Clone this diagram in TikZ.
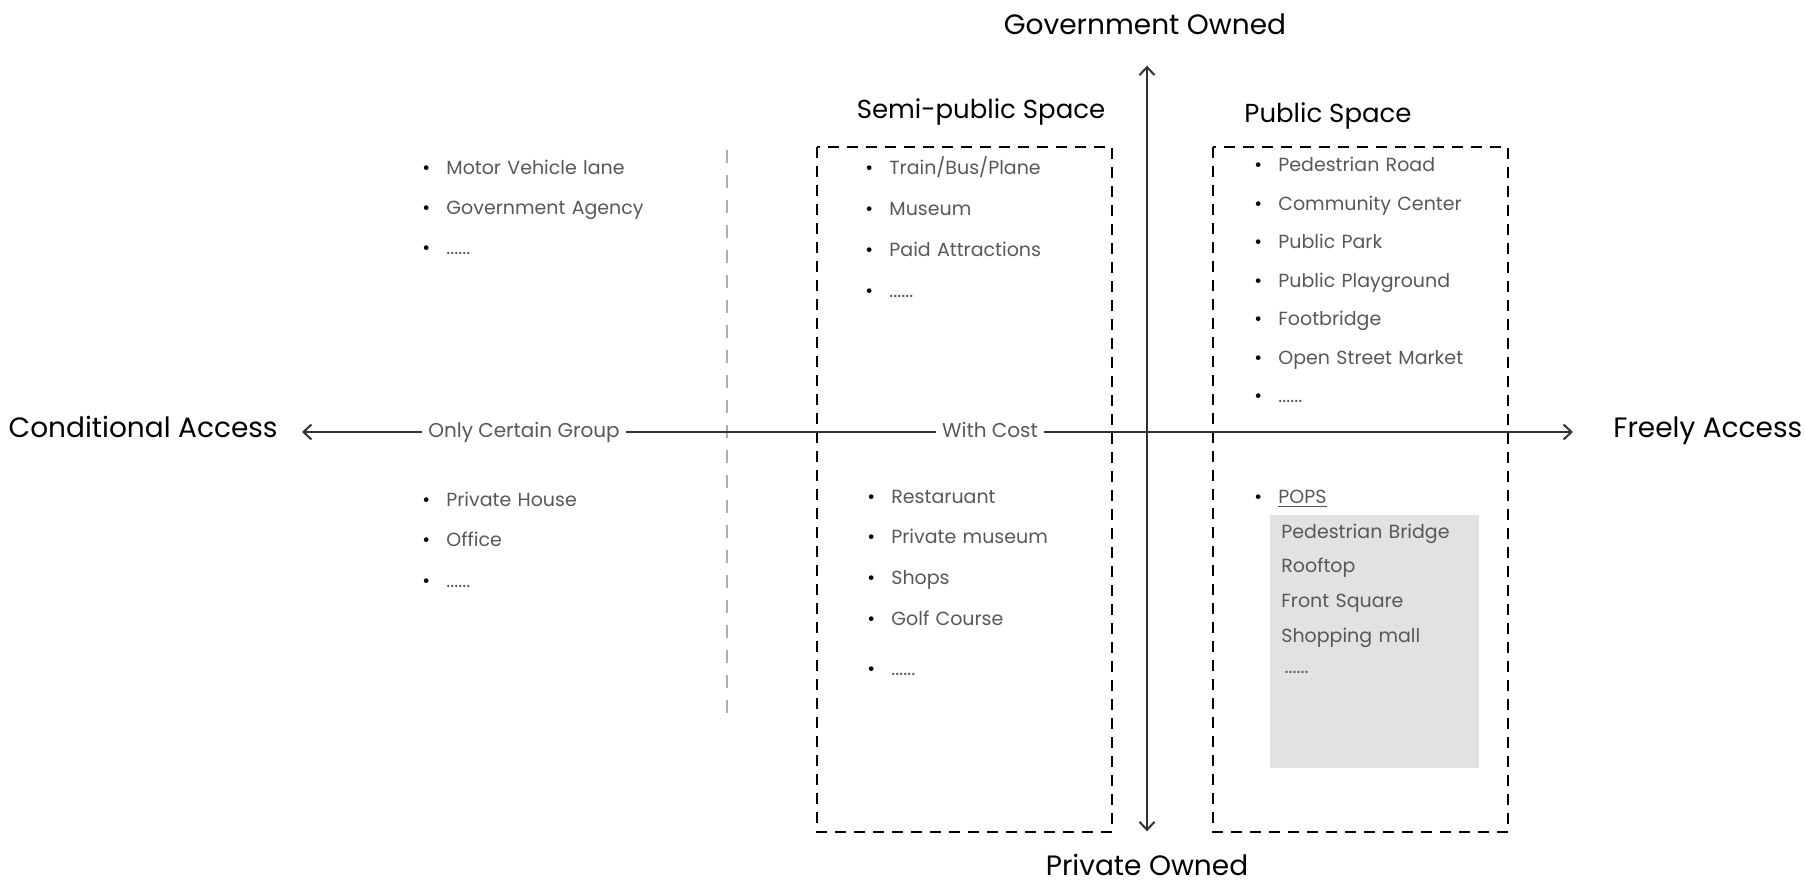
\documentclass[tikz,border=0pt]{standalone}
\usepackage{fontspec}
\setmainfont{Poppins}
\usetikzlibrary{positioning,arrows.meta}

\definecolor{entrygray}{RGB}{88,88,88}
\definecolor{axisgray}{RGB}{50,50,50}
\definecolor{guidegray}{RGB}{175,175,175}
\definecolor{popsgray}{RGB}{226,226,226}

% black bullet in front of a gray entry
\newcommand{\itemdot}{\makebox[12pt][l]{\textcolor{black}{\textbullet}}}

\tikzset{
  heading/.style={font=\fontsize{14}{16}\selectfont, inner sep=0pt},
  zonetitle/.style={font=\fontsize{13}{15}\selectfont, inner sep=0pt},
  entry/.style={font=\fontsize{9.5}{11}\selectfont, text=entrygray, inner sep=0pt,
    text width=120pt, align=left, text height=7pt, text depth=2pt},
  axislabel/.style={font=\fontsize{10}{12}\selectfont, text=entrygray, inner xsep=3pt},
  axis/.style={axisgray, line width=1pt},
  tip/.style={-{Straight Barb[length=4pt,width=7.5pt]}},
  zone/.style={draw, line width=1.2pt, dash pattern=on 5.5pt off 4pt},
  guide/.style={guidegray, line width=1pt, dash pattern=on 6.5pt off 6pt},
}

\begin{document}
\begin{tikzpicture}[x=0.5pt, y=-0.5pt, node distance=11pt]
  \useasboundingbox (0,0) rectangle (1806,883);

  % POPS background and the two zones
  \fill[popsgray] (1270,515) rectangle (1479,768);
  \draw[zone] (817,147) rectangle (1112,832);
  \draw[zone] (1213,147) rectangle (1508,832);
  \draw[guide] (727,150) -- (727,718);

  \node (semititle) [zonetitle, anchor=base] at (981,119) {Semi-public Space};
  \node (pubtitle) [zonetitle, anchor=base] at (1328,123) {Public Space};

  % ownership axis
  \node (govown) [heading, anchor=base] at (1145,35) {Government Owned};
  \node (privown) [heading, anchor=base] at (1147,875) {Private Owned};
  \draw[axis, {Straight Barb[length=4pt,width=7.5pt]}-{Straight Barb[length=4pt,width=7.5pt]},
    shorten <=15pt, shorten >=11pt] (govown.south -| privown.north) -- (privown.north);

  % access axis
  \node (condacc) [heading, anchor=mid east, inner xsep=12pt] at (302,432) {Conditional Access};
  \node (freeacc) [heading, anchor=mid west, inner xsep=20pt] at (1573,432) {Freely Access};
  \node (grouplbl) [axislabel, anchor=mid] at (524,432) {Only Certain Group};
  \node (costlbl) [axislabel, anchor=mid] at (990,432) {With Cost};
  \draw[axis, tip] (grouplbl.mid west) -- (condacc.mid east);
  \draw[axis] (grouplbl.mid east) -- (costlbl.mid west);
  \draw[axis, tip] (costlbl.mid east) -- (freeacc.mid west);

  % certain group only
  \begin{scope}[node distance=10.5pt]
    \node (motorlane) [entry, anchor=base west] at (422,175) {\itemdot Motor Vehicle lane};
    \node (govagency) [entry, below=of motorlane] {\itemdot Government Agency};
    \node (grouptopdots) [entry, below=of govagency] {\itemdot ......};
  \end{scope}

  \node (privhouse) [entry, anchor=base west] at (422,506) {\itemdot Private House};
  \node (office) [entry, below=of privhouse] {\itemdot Office};
  \node (groupbotdots) [entry, below=of office] {\itemdot ......};

  % with cost
  \node (trainbus) [entry, anchor=base west] at (865,175) {\itemdot Train/Bus/Plane};
  \node (museum) [entry, below=of trainbus] {\itemdot Museum};
  \node (paidattr) [entry, below=of museum] {\itemdot Paid Attractions};
  \node (costtopdots) [entry, below=of paidattr] {\itemdot ......};

  \node (restaurant) [entry, anchor=base west] at (867,503) {\itemdot Restaruant};
  \node (privmuseum) [entry, below=of restaurant] {\itemdot Private museum};
  \node (shops) [entry, below=of privmuseum] {\itemdot Shops};
  \node (golf) [entry, below=of shops] {\itemdot Golf Course};
  \node (costbotdots) [entry, below=15.5pt of golf] {\itemdot ......};

  % free access
  \begin{scope}[node distance=9.8pt]
    \node (pedroad) [entry, anchor=base west] at (1254,172) {\itemdot Pedestrian Road};
    \node (commcenter) [entry, below=of pedroad] {\itemdot Community Center};
    \node (pubpark) [entry, below=of commcenter] {\itemdot Public Park};
    \node (playground) [entry, below=of pubpark] {\itemdot Public Playground};
    \node (footbridge) [entry, below=of playground] {\itemdot Footbridge};
    \node (streetmarket) [entry, below=of footbridge] {\itemdot Open Street Market};
    \node (freedots) [entry, below=of streetmarket] {\itemdot ......};
  \end{scope}

  % privately owned public space
  \node (pops) [entry, anchor=base west] at (1254,503) {\itemdot\underline{POPS}};
  \begin{scope}[node distance=8pt]
    \node (pedbridge) [entry, anchor=base west] at (1281,538) {Pedestrian Bridge};
    \node (rooftop) [entry, below=of pedbridge] {Rooftop};
    \node (frontsq) [entry, below=of rooftop] {Front Square};
    \node (mall) [entry, below=of frontsq] {Shopping mall};
    \node (popsdots) [entry, below=6pt of mall] {\,......};
  \end{scope}
\end{tikzpicture}
\end{document}
